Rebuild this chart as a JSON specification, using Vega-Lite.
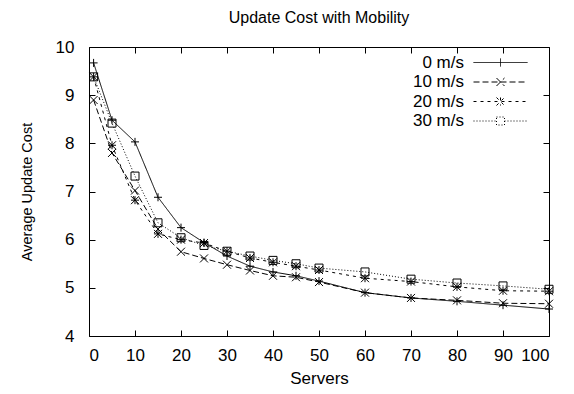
{
  "$schema": "https://vega.github.io/schema/vega-lite/v6.json",
  "width": 460,
  "height": 289,
  "autosize": "none",
  "padding": {"left": 89, "top": 47, "right": 25, "bottom": 58},
  "background": "white",
  "title": {"text": "Update Cost with Mobility", "fontSize": 16, "font": "Liberation Sans", "fontWeight": "normal", "color": "black", "anchor": "middle", "frame": "group", "offset": 12},
  "config": {
    "view": {"stroke": "black", "strokeWidth": 1},
    "axis": {"labelFont": "Liberation Sans", "labelFontSize": 17, "labelColor": "black", "tickColor": "black", "tickSize": -6, "domain": false, "grid": false, "titleFont": "Liberation Sans", "titleFontSize": 17, "titleFontWeight": "normal", "titleColor": "black"}
  },
  "data": {"values": [
    {"series": "0 m/s", "servers": 1, "cost": 9.67},
    {"series": "0 m/s", "servers": 5, "cost": 8.48},
    {"series": "0 m/s", "servers": 10, "cost": 8.03},
    {"series": "0 m/s", "servers": 15, "cost": 6.88},
    {"series": "0 m/s", "servers": 20, "cost": 6.25},
    {"series": "0 m/s", "servers": 25, "cost": 5.94},
    {"series": "0 m/s", "servers": 30, "cost": 5.66},
    {"series": "0 m/s", "servers": 35, "cost": 5.45},
    {"series": "0 m/s", "servers": 40, "cost": 5.33},
    {"series": "0 m/s", "servers": 45, "cost": 5.25},
    {"series": "0 m/s", "servers": 50, "cost": 5.14},
    {"series": "0 m/s", "servers": 60, "cost": 4.90},
    {"series": "0 m/s", "servers": 70, "cost": 4.79},
    {"series": "0 m/s", "servers": 80, "cost": 4.72},
    {"series": "0 m/s", "servers": 90, "cost": 4.64},
    {"series": "0 m/s", "servers": 100, "cost": 4.56},
    {"series": "10 m/s", "servers": 1, "cost": 8.90},
    {"series": "10 m/s", "servers": 5, "cost": 7.80},
    {"series": "10 m/s", "servers": 10, "cost": 7.02},
    {"series": "10 m/s", "servers": 15, "cost": 6.22},
    {"series": "10 m/s", "servers": 20, "cost": 5.75},
    {"series": "10 m/s", "servers": 25, "cost": 5.61},
    {"series": "10 m/s", "servers": 30, "cost": 5.48},
    {"series": "10 m/s", "servers": 35, "cost": 5.36},
    {"series": "10 m/s", "servers": 40, "cost": 5.25},
    {"series": "10 m/s", "servers": 45, "cost": 5.22},
    {"series": "10 m/s", "servers": 50, "cost": 5.12},
    {"series": "10 m/s", "servers": 60, "cost": 4.90},
    {"series": "10 m/s", "servers": 70, "cost": 4.79},
    {"series": "10 m/s", "servers": 80, "cost": 4.74},
    {"series": "10 m/s", "servers": 90, "cost": 4.68},
    {"series": "10 m/s", "servers": 100, "cost": 4.67},
    {"series": "20 m/s", "servers": 1, "cost": 9.38},
    {"series": "20 m/s", "servers": 5, "cost": 7.96},
    {"series": "20 m/s", "servers": 10, "cost": 6.82},
    {"series": "20 m/s", "servers": 15, "cost": 6.12},
    {"series": "20 m/s", "servers": 20, "cost": 6.00},
    {"series": "20 m/s", "servers": 25, "cost": 5.93},
    {"series": "20 m/s", "servers": 30, "cost": 5.76},
    {"series": "20 m/s", "servers": 35, "cost": 5.62},
    {"series": "20 m/s", "servers": 40, "cost": 5.53},
    {"series": "20 m/s", "servers": 45, "cost": 5.45},
    {"series": "20 m/s", "servers": 50, "cost": 5.37},
    {"series": "20 m/s", "servers": 60, "cost": 5.20},
    {"series": "20 m/s", "servers": 70, "cost": 5.13},
    {"series": "20 m/s", "servers": 80, "cost": 5.02},
    {"series": "20 m/s", "servers": 90, "cost": 4.94},
    {"series": "20 m/s", "servers": 100, "cost": 4.93},
    {"series": "30 m/s", "servers": 1, "cost": 9.38},
    {"series": "30 m/s", "servers": 5, "cost": 8.42},
    {"series": "30 m/s", "servers": 10, "cost": 7.32},
    {"series": "30 m/s", "servers": 15, "cost": 6.35},
    {"series": "30 m/s", "servers": 20, "cost": 6.04},
    {"series": "30 m/s", "servers": 25, "cost": 5.88},
    {"series": "30 m/s", "servers": 30, "cost": 5.76},
    {"series": "30 m/s", "servers": 35, "cost": 5.66},
    {"series": "30 m/s", "servers": 40, "cost": 5.57},
    {"series": "30 m/s", "servers": 45, "cost": 5.50},
    {"series": "30 m/s", "servers": 50, "cost": 5.41},
    {"series": "30 m/s", "servers": 60, "cost": 5.33},
    {"series": "30 m/s", "servers": 70, "cost": 5.18},
    {"series": "30 m/s", "servers": 80, "cost": 5.10},
    {"series": "30 m/s", "servers": 90, "cost": 5.04},
    {"series": "30 m/s", "servers": 100, "cost": 4.97}
  ]},
  "layer": [
    {
      "mark": {"type": "line", "color": "black", "strokeWidth": 1},
      "encoding": {
        "x": {"field": "servers", "type": "quantitative", "scale": {"domain": [0, 100], "nice": false}, "axis": {"orient": "bottom", "values": [0, 10, 20, 30, 40, 50, 60, 70, 80, 90, 100], "labelPadding": 17, "title": "Servers", "titlePadding": 7}},
        "y": {"field": "cost", "type": "quantitative", "scale": {"domain": [4, 10], "nice": false, "zero": false}, "axis": {"orient": "left", "values": [4, 5, 6, 7, 8, 9, 10], "labelPadding": 21, "title": "Average Update Cost", "titleFontSize": 14.5, "titlePadding": 21}},
        "strokeDash": {"field": "series", "type": "nominal", "scale": {"domain": ["0 m/s", "10 m/s", "20 m/s", "30 m/s"], "range": [[1, 0], [6, 3], [3, 4], [1, 2]]}, "legend": null}
      }
    },
    {
      "mark": {"type": "point", "filled": false, "color": "black", "strokeWidth": 1, "size": 64, "opacity": 1},
      "encoding": {
        "x": {"field": "servers", "type": "quantitative", "axis": {"orient": "top", "values": [0, 10, 20, 30, 40, 50, 60, 70, 80, 90, 100], "labels": false, "title": null}},
        "y": {"field": "cost", "type": "quantitative", "axis": {"orient": "right", "values": [4, 5, 6, 7, 8, 9, 10], "labels": false, "title": null}},
        "shape": {"field": "series", "type": "nominal", "scale": {"domain": ["0 m/s", "10 m/s", "20 m/s", "30 m/s"], "range": ["M-1,0L1,0M0,-1L0,1", "M-1,-1L1,1M-1,1L1,-1", "M-1,0L1,0M0,-1L0,1M-1,-1L1,1M-1,1L1,-1", "M-1,-1L1,-1L1,1L-1,1Z"]}, "legend": null}
      }
    },
    {
      "mark": {"type": "point", "filled": false, "color": "black", "strokeWidth": 1, "size": 64, "opacity": 0},
      "encoding": {
        "x": {"field": "servers", "type": "quantitative", "axis": null},
        "y": {"field": "cost", "type": "quantitative", "axis": null},
        "shape": {"field": "series", "type": "nominal", "scale": {"domain": ["0 m/s", "10 m/s", "20 m/s", "30 m/s"], "range": ["M0,0L13.5,0M6.75,-1L6.75,1", "M0,0L13.5,0M5.75,-1L7.75,1M5.75,1L7.75,-1", "M0,0L13.5,0M6.75,-1L6.75,1M5.75,-1L7.75,1M5.75,1L7.75,-1", "M0,0L5.75,0M7.75,0L13.5,0M5.75,-1L7.75,-1L7.75,1L5.75,1Z"]},
          "legend": {"orient": "none", "legendX": 376, "legendY": 7, "title": null, "padding": 0, "rowPadding": 1.5, "labelAlign": "right", "labelOffset": -18, "labelFont": "Liberation Sans", "labelFontSize": 17, "labelColor": "black", "labelLimit": 300, "symbolSize": 64, "symbolStrokeColor": "black", "symbolStrokeWidth": 1, "symbolOpacity": 1, "symbolFillColor": "transparent"}},
        "strokeDash": {"field": "series", "type": "nominal", "scale": {"domain": ["0 m/s", "10 m/s", "20 m/s", "30 m/s"], "range": [[1, 0], [6, 3], [3, 4], [1, 2]]},
          "legend": {"orient": "none", "legendX": 376, "legendY": 7, "title": null, "padding": 0, "rowPadding": 1.5, "labelAlign": "right", "labelOffset": -18, "labelFont": "Liberation Sans", "labelFontSize": 17, "labelColor": "black", "labelLimit": 300, "symbolSize": 64, "symbolStrokeColor": "black", "symbolStrokeWidth": 1, "symbolOpacity": 1, "symbolFillColor": "transparent"}}
      }
    }
  ],
  "resolve": {"scale": {"shape": "independent", "strokeDash": "independent"}, "legend": {"shape": "independent", "strokeDash": "independent"}}
}
